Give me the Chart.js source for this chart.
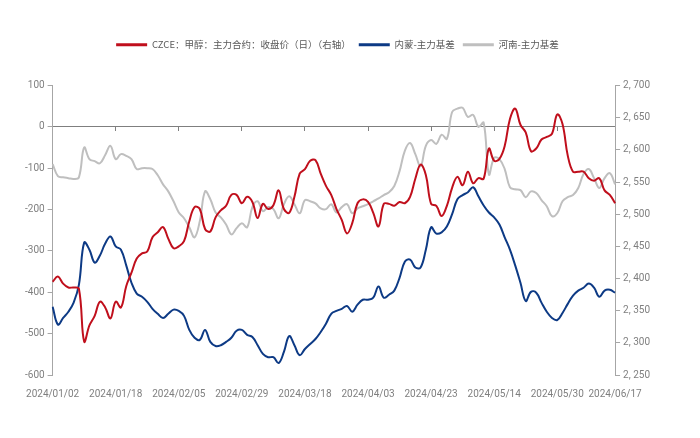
<!DOCTYPE html>
<html>
<head>
<meta charset="utf-8">
<script src="https://cdn.jsdelivr.net/npm/chart.js@4.4.0/dist/chart.umd.min.js"></script>
<style>
  html, body { margin: 0; padding: 0; background: #fff; }
  #wrap { width: 700px; height: 438px; }
</style>
</head>
<body>
<div id="wrap"><canvas id="chart"></canvas></div>
<script>
// trading days 2024/01/02 - 2024/06/17
const dates = [
  "2024/01/02","2024/01/03","2024/01/04","2024/01/05","2024/01/08","2024/01/09","2024/01/10","2024/01/11","2024/01/12","2024/01/15",
  "2024/01/16","2024/01/17","2024/01/18","2024/01/19","2024/01/22","2024/01/23","2024/01/24","2024/01/25","2024/01/26","2024/01/29",
  "2024/01/30","2024/01/31","2024/02/01","2024/02/02","2024/02/05","2024/02/06","2024/02/07","2024/02/08","2024/02/19","2024/02/20",
  "2024/02/21","2024/02/22","2024/02/23","2024/02/26","2024/02/27","2024/02/28","2024/02/29","2024/03/01","2024/03/04","2024/03/05",
  "2024/03/06","2024/03/07","2024/03/08","2024/03/11","2024/03/12","2024/03/13","2024/03/14","2024/03/15","2024/03/18","2024/03/19",
  "2024/03/20","2024/03/21","2024/03/22","2024/03/25","2024/03/26","2024/03/27","2024/03/28","2024/03/29","2024/04/01","2024/04/02",
  "2024/04/03","2024/04/08","2024/04/09","2024/04/10","2024/04/11","2024/04/12","2024/04/15","2024/04/16","2024/04/17","2024/04/18",
  "2024/04/19","2024/04/22","2024/04/23","2024/04/24","2024/04/25","2024/04/26","2024/04/29","2024/04/30","2024/05/06","2024/05/07",
  "2024/05/08","2024/05/09","2024/05/10","2024/05/13","2024/05/14","2024/05/15","2024/05/16","2024/05/17","2024/05/20","2024/05/21",
  "2024/05/22","2024/05/23","2024/05/24","2024/05/27","2024/05/28","2024/05/29","2024/05/30","2024/05/31","2024/06/03","2024/06/04",
  "2024/06/05","2024/06/06","2024/06/07","2024/06/11","2024/06/12","2024/06/13","2024/06/14","2024/06/17"
];

// 收盘价 (右轴)
const czceClose = [
  2395,2403,2392,2386,2386,2384,2302,2327,2342,2364,
  2355,2338,2364,2355,2388,2409,2431,2439,2442,2464,
  2472,2480,2462,2447,2450,2458,2489,2511,2508,2477,
  2473,2495,2506,2513,2530,2530,2517,2527,2519,2494,
  2516,2508,2514,2537,2508,2502,2527,2563,2570,2583,
  2584,2563,2544,2530,2508,2491,2470,2486,2517,2523,
  2519,2502,2481,2516,2516,2513,2519,2517,2527,2555,
  2577,2561,2516,2513,2497,2513,2541,2558,2545,2566,
  2548,2556,2555,2602,2583,2586,2606,2648,2664,2639,
  2627,2598,2602,2616,2620,2625,2655,2640,2591,2566,
  2566,2566,2556,2552,2556,2537,2530,2517
];

// 内蒙-主力基差
const neimengBasis = [
  -435,-478,-462,-447,-425,-382,-280,-297,-328,-311,
  -282,-265,-289,-297,-335,-377,-403,-411,-423,-440,
  -452,-462,-452,-442,-445,-457,-491,-510,-515,-491,
  -520,-530,-528,-520,-510,-493,-491,-503,-508,-528,
  -549,-557,-557,-571,-544,-506,-528,-552,-537,-525,
  -513,-496,-476,-452,-445,-440,-433,-447,-430,-418,
  -418,-413,-386,-413,-406,-396,-365,-326,-321,-340,
  -340,-297,-243,-258,-255,-241,-211,-175,-165,-158,
  -146,-168,-190,-207,-219,-236,-267,-297,-335,-377,
  -421,-399,-401,-425,-447,-462,-467,-450,-428,-408,
  -396,-389,-379,-389,-411,-396,-394,-401
];

// 河南-主力基差
const henanBasis = [
  -90,-119,-122,-124,-126,-122,-50,-78,-83,-88,
  -68,-46,-78,-66,-70,-78,-102,-100,-100,-102,
  -117,-139,-156,-180,-207,-221,-243,-267,-228,-156,
  -175,-207,-219,-236,-260,-245,-233,-243,-194,-180,
  -204,-194,-199,-221,-187,-168,-187,-209,-177,-180,
  -185,-197,-199,-187,-207,-194,-187,-209,-197,-192,
  -187,-180,-173,-165,-158,-143,-107,-58,-39,-66,
  -95,-46,-32,-41,-19,-29,36,44,46,24,
  29,0,10,-115,-75,-78,-102,-146,-151,-153,
  -170,-156,-160,-177,-192,-216,-209,-180,-170,-165,
  -148,-114,-102,-124,-148,-124,-112,-139
];

// 横轴上显示的日期
const shownDates = [0, 12, 24, 36, 48, 60, 72, 84, 96, 107];

Chart.defaults.font.family = 'Roboto, "Noto Sans CJK SC", sans-serif';
Chart.defaults.font.size = 10;
Chart.defaults.color = "#7f7f7f";

// un peu d'espace sous la légende
const legendGap = {
  id: "legendGap",
  beforeInit(chart) {
    const fit = chart.legend.fit;
    chart.legend.fit = function () {
      fit.bind(chart.legend)();
      this.height += 26;
    };
  },
};

const pickDate = (val, idx) => (shownDates.includes(idx) ? dates[idx] : null);

new Chart(document.getElementById("chart").getContext("2d"), {
  type: "line",
  data: {
    labels: dates,
    datasets: [
      {
        label: "CZCE：甲醇：主力合约：收盘价（日）（右轴）",
        data: czceClose,
        yAxisID: "y1",
        borderColor: "#c00f1c",
        backgroundColor: "#c00f1c",
      },
      {
        label: "内蒙-主力基差",
        data: neimengBasis,
        yAxisID: "y",
        borderColor: "#0d3a85",
        backgroundColor: "#0d3a85",
      },
      {
        label: "河南-主力基差",
        data: henanBasis,
        yAxisID: "y",
        borderColor: "#bfbfbf",
        backgroundColor: "#bfbfbf",
      },
    ],
  },
  options: {
    responsive: true,
    maintainAspectRatio: false,
    animation: false,
    layout: { padding: { top: 32, left: 22, right: 47, bottom: 33 } },
    elements: {
      line: { borderWidth: 2, tension: 0.4 },
      point: { radius: 0 },
    },
    plugins: {
      tooltip: { enabled: false },
      legend: {
        position: "top",
        labels: {
          boxWidth: 31,
          boxHeight: 3,
          padding: 8,
          color: "#595959",
          font: { family: '"Noto Sans CJK SC"', size: 9.5 },
          generateLabels(chart) {
            return Chart.defaults.plugins.legend.labels
              .generateLabels(chart)
              .map(item => ({ ...item, lineWidth: 0 }));
          },
        },
      },
    },
    scales: {
      x: {
        type: "category",
        position: "bottom",
        offset: false,
        grid: { display: false },
        border: { display: false },
        ticks: { autoSkip: false, maxRotation: 0, padding: 5, callback: pickDate },
      },
      x0: {
        type: "category",
        position: { y: 0 },
        offset: false,
        grid: { drawOnChartArea: false, drawTicks: true, tickLength: 4, color: "#7f7f7f" },
        border: { display: true, color: "#7f7f7f", width: 1 },
        ticks: { display: false, autoSkip: false, callback: pickDate },
      },
      y: {
        position: "left",
        min: -600,
        max: 100,
        grid: { drawOnChartArea: false, tickLength: 5, color: "#a6a6a6" },
        border: { display: true, color: "#a6a6a6" },
        ticks: { stepSize: 100, padding: 3 },
      },
      y1: {
        position: "right",
        min: 2250,
        max: 2700,
        grid: { drawOnChartArea: false, tickLength: 5, color: "#a6a6a6" },
        border: { display: true, color: "#a6a6a6" },
        ticks: {
          stepSize: 50,
          padding: 3,
          callback: v => String(v).replace(/(\d)(\d{3})$/, "$1, $2"),
        },
      },
    },
  },
  plugins: [legendGap],
});
</script>
</body>
</html>
